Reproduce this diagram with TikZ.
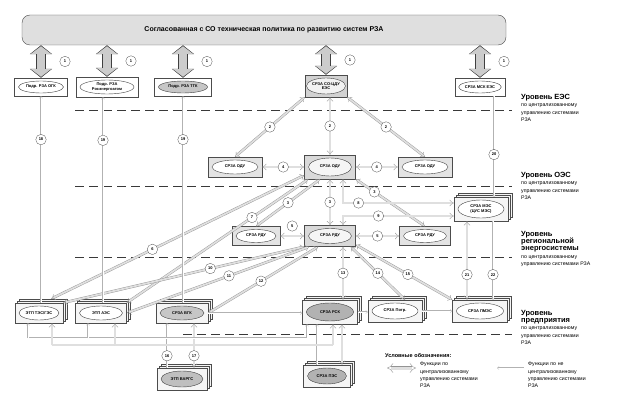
\documentclass[tikz,border=0pt]{standalone}
\usepackage{fontspec}
\setmainfont{Liberation Sans}
\usetikzlibrary{arrows.meta,shapes.geometric,shadows}

\tikzset{
  rbox/.style={draw=gray!60!black, line width=0.4pt, inner sep=0pt},
  oval/.style={ellipse, draw=gray!50!black, line width=0.4pt, inner sep=0pt, align=center,
    font=\fontsize{4}{4.6}\selectfont\bfseries},
  stk/.style={double copy shadow={shadow xshift=2pt, shadow yshift=2pt, fill=gray!8, draw=gray!60!black}},
  banner/.style={draw=gray!60!black, fill=gray!25, rounded corners=8pt, minimum width=484pt,
    minimum height=30pt, font=\fontsize{7}{8}\selectfont\bfseries},
  cenline/.style={draw=gray!85, double=gray!25, double distance=1.8pt, line width=0.4pt},
  cen/.style={cenline, Implies-Implies},
  cenup/.style={cenline, -Implies},
  fat/.style={draw=gray!40, line width=8.5pt, shorten <=1pt, shorten >=1pt,
    {Triangle[width=19.5pt,length=7.6pt]}-{Triangle[width=19.5pt,length=7.6pt]},
    preaction={draw=gray!50!black, line width=10pt, shorten <=0pt, shorten >=0pt,
      {Triangle[width=22pt,length=9pt]}-{Triangle[width=22pt,length=9pt]}}},
  ncenline/.style={draw=gray!60, double=white, double distance=0.8pt, line width=0.3pt},
  ncen/.style={ncenline, -Implies},
  lbl/.style={circle, draw=gray!60!black, fill=white, line width=0.3pt, minimum size=10.5pt,
    inner sep=0pt, font=\fontsize{4}{4}\selectfont\bfseries},
  lvl/.style={draw=gray!45!black, line width=0.7pt, dash pattern=on 9pt off 5pt},
  lvltxt/.style={anchor=north west, align=left, inner sep=0pt, text width=110pt,
    font=\fontsize{5.2}{7.3}\selectfont},
}

% box with an oval inside: [options]{name}{position}{width}{height}{box fill}{oval fill}{text}
\newcommand{\rza}[8][]{%
  \node[rbox, minimum width=#4pt, minimum height=#5pt, fill=#6, #1] (#2) at (#3) {};
  \node[oval, minimum width={(#4-8)*1pt}, minimum height={(#5-6)*1pt}, fill=#7] at (#2) {#8};
}
\newcommand{\lvlhead}[1]{{\fontsize{7.5}{9}\selectfont\bfseries #1}}

\begin{document}
\begin{tikzpicture}[x=1pt, y=-1pt]
\useasboundingbox (0,0) rectangle (630,404);

% Level lines
\draw[lvl] (75,110) -- (512,110);
\draw[lvl] (75,186) -- (512,186);
\draw[lvl] (75,257) -- (512,257);
\draw[lvl] (183,334) -- (512,334);

% Boxes
\node[banner] (csp) at (264,30) {Согласованная с СО техническая политика по развитию систем РЗА};

\rza{ogk}{41,87}{53}{18}{white}{white}{Подр. РЗА ОГК}
\rza{rea}{107,87}{62}{20}{white}{white}{Подр. РЗА\\Росэнергоатом}
\rza{tgk}{183,87}{57}{18}{white}{gray!45}{Подр. РЗА ТГК}
\rza{cdu}{326,86}{42}{22}{gray!35}{gray!10}{СРЗА СО-ЦДУ\\ЕЭС}
\rza{msk}{480,87}{50}{18}{white}{white}{СРЗА МСК ЕЭС}

\rza{oduL}{235,167}{54}{20}{gray!22}{white}{СРЗА ОДУ}
\rza{oduC}{330,167}{51}{24}{gray!30}{gray!8}{СРЗА ОДУ}
\rza{oduR}{425,167}{54}{20}{gray!22}{white}{СРЗА ОДУ}

\rza{rduL}{256,236}{48}{19}{gray!22}{white}{СРЗА РДУ}
\rza{rduC}{330,236}{51}{21}{gray!30}{gray!8}{СРЗА РДУ}
\rza{rduR}{425,236}{51}{19}{gray!22}{white}{СРЗА РДУ}
\rza[stk]{mes}{481,209}{54}{24}{gray!8}{white}{СРЗА МЭС\\(ЦУС МЭС)}

\rza[stk]{tes}{39,313}{48}{20}{gray!8}{white}{ЭТП ТЭС/ГЭС}
\rza[stk]{aes}{101,313}{51}{20}{gray!8}{white}{ЭТП АЭС}
\rza[stk]{vgk}{182,313}{52}{20}{gray!8}{gray!45}{СРЗА ВГК}
\rza[stk]{rsk}{330,312}{55}{24}{gray!8}{gray!60}{СРЗА РСК}
\rza[stk]{potr}{395,311}{54}{22}{gray!8}{white}{СРЗА Потр.}
\rza[stk]{pmes}{480,311}{55}{22}{gray!8}{white}{СРЗА ПМЭС}
\rza[stk]{varg}{182,379}{50}{22}{gray!8}{gray!50}{ЭТП ВАРГС}
\rza[stk]{pes}{327,376}{47}{22}{gray!8}{gray!60}{СРЗА ПЭС}

% Policy arrows
\draw[fat] (ogk.north) -- node[lbl, xshift=24pt] {1} (ogk.north |- csp.south);
\draw[fat] (rea.north) -- node[lbl, xshift=24pt] {1} (rea.north |- csp.south);
\draw[fat] (tgk.north) -- node[lbl, xshift=24pt] {1} (tgk.north |- csp.south);
\draw[fat] (cdu.north) -- node[lbl, xshift=24pt] {1} (cdu.north |- csp.south);
\draw[fat] (msk.north) -- node[lbl, xshift=24pt] {1} (msk.north |- csp.south);

% ЕЭС - ОЭС - РДУ
\draw[cen] (cdu.south west) -- node[lbl] {2} (oduL.north);
\draw[cen] (oduC.north) -- node[lbl] {2} (oduC.north |- cdu.south);
\draw[cen] (cdu.south east) -- node[lbl] {2} (oduR.north);
\draw[cen] (oduL.east) -- node[lbl] {4} (oduC.west);
\draw[cen] (oduC.east) -- node[lbl] {4} (oduR.west);
\draw[cen] (oduC.south) -- node[lbl] {3} (rduC.north);
\draw[cen] ([xshift=-10pt]oduC.south) -- node[lbl] {3} (rduL.north);
\draw[cen] (oduC.south east) -- node[lbl, pos=0.27] {3} (rduR.north);
\draw[cen] ([xshift=13pt]oduC.south) |- node[lbl, pos=0.57] {8} ([yshift=6pt]mes.west);
\draw[cen] ([xshift=13pt]rduC.north) |- node[lbl, pos=0.66] {9} ([yshift=-7pt]mes.west);
\draw[cen] (rduL.east) -- node[lbl, yshift=10pt] {5} (rduC.west);
\draw[cen] (rduC.east) -- node[lbl] {5} (rduR.west);

% To the enterprises
\draw[cen] ([xshift=-12pt, yshift=4pt]tes.north east) -- node[lbl, pos=0.4] {6} ([yshift=4pt]oduC.south west);
\draw[cen] (aes.north east) -- node[lbl, pos=0.69] {7} ([xshift=4pt]oduC.south west);
\draw[cen] (tes.north east) -- node[lbl, pos=0.61] {10} (rduC.south west);
\draw[cen] (aes.east) -- node[lbl, pos=0.56] {11} ([xshift=5pt]rduC.south west);
\draw[cen] (vgk.east) -- node[lbl, pos=0.48] {12} ([xshift=14pt]rduC.south west);
\draw[cen] ([xshift=13pt]rduC.south) -- node[lbl] {13} ([xshift=13pt]rduC.south |- rsk.north);
\draw[cen] ([xshift=-5pt]rduC.south east) -- node[lbl] {14} ([xshift=10pt]potr.north);
\draw[cen] ([yshift=2pt]rduC.south east) -- node[lbl, pos=0.54] {15} (pmes.north west);

% МЭС
\draw[ncen] ([xshift=14pt]msk.south) -- node[lbl, pos=0.58] {20} ([xshift=14pt]msk.south |- mes.north);
\draw[cen] ([xshift=-14pt]mes.south) -- node[lbl, pos=0.68] {21} ([xshift=-14pt]mes.south |- pmes.north);
\draw[ncen] ([xshift=12pt]mes.south) -- node[lbl, pos=0.68] {22} ([xshift=12pt]mes.south |- pmes.north);

% Subdivisions
\draw[ncen] (ogk.south |- tes.north) -- node[lbl, pos=0.79] {18} (ogk.south);
\draw[ncen] ([xshift=-4pt]rea.south |- aes.north) -- node[lbl, pos=0.79] {19} ([xshift=-4pt]rea.south);
\draw[ncen] (tgk.south |- vgk.north) -- node[lbl, pos=0.79] {19} (tgk.south);

% Bottom row
\draw[ncen] (vgk.east) -- (vgk.east -| rsk.west);
\draw[ncen] (rsk.east) -- (rsk.east -| potr.west);
\draw[ncen] (potr.east) -- (potr.east -| pmes.west);
\draw[ncen] ([xshift=-15pt]varg.north) -- node[lbl, pos=0.27] {16} ([xshift=-15pt]varg.north |- vgk.south);
\draw[cen] ([xshift=12pt]varg.north) -- node[lbl, pos=0.27] {17} ([xshift=12pt]varg.north |- vgk.south);
\draw[ncen] ([xshift=-13pt]rsk.south |- pes.north) -- ([xshift=-13pt]rsk.south);
\draw[cen] ([xshift=12pt]rsk.south |- pes.north) -- ([xshift=12pt]rsk.south);

\coordinate (tb1) at (28,338);
\coordinate (tb2) at (307,338);
\coordinate (cb1) at (52,345);
\coordinate (cb2) at (333,345);
\draw[ncenline] (tb1) -- (tb2);
\draw[ncen] (tb1) -- (tb1 |- tes.south);
\draw[ncen] ([xshift=-13pt]aes.south |- tb1) -- ([xshift=-13pt]aes.south);
\draw[ncen] (tb2) -- (tb2 |- rsk.south);
\draw[cenline] (cb1) -- (cb2);
\draw[cenup] (cb1) -- (cb1 |- tes.south);
\draw[cenup] ([xshift=14pt]aes.south |- cb1) -- ([xshift=14pt]aes.south);
\draw[cenup] (cb2) -- (cb2 |- rsk.south);

% Level labels
\node[lvltxt] (t-ees) at (521,94) {\lvlhead{Уровень ЕЭС}\\по централизованному\\управлению системами\\РЗА};
\node[lvltxt] (t-oes) at (521,172) {\lvlhead{Уровень ОЭС}\\по централизованному\\управлению системами\\РЗА};
\node[lvltxt] (t-res) at (521,231) {\lvlhead{Уровень}\\\lvlhead{региональной}\\\lvlhead{энергосистемы}\\по централизованному\\управлению системами РЗА};
\node[lvltxt] (t-pr) at (521,310) {\lvlhead{Уровень}\\\lvlhead{предприятия}\\по централизованному\\управлению системами\\РЗА};

% Legend
\node[lvltxt, font=\fontsize{5.5}{7}\selectfont\bfseries] (lg) at (385,353) {Условные обозначения:};
\coordinate (lg1a) at (387,368);
\coordinate (lg1b) at (416,368);
\draw[cen, double distance=3pt] (lg1a) -- (lg1b);
\node[lvltxt] (lg1) at (420,362) {Функции по\\централизованному\\управлению системами\\РЗА};
\coordinate (lg2a) at (524,368);
\coordinate (lg2b) at (497,368);
\draw[ncen] (lg2a) -- (lg2b);
\node[lvltxt] (lg2) at (528,362) {Функции по не\\централизованному\\управлению системами\\РЗА};
\end{tikzpicture}
\end{document}
